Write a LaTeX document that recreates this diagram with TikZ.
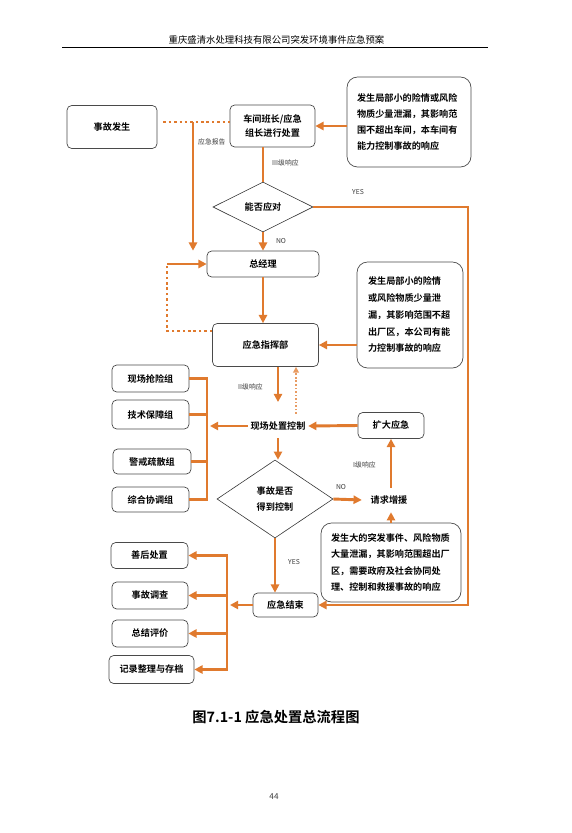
\documentclass[tikz,border=0pt]{standalone}
\usepackage{fontspec}
\setmainfont{Noto Sans CJK SC}[BoldFont={Noto Sans CJK SC Bold}]
\usetikzlibrary{arrows.meta, shapes.geometric, calc}
\definecolor{flowcolor}{HTML}{E07A2E}
\definecolor{linecolor}{HTML}{4A4A4A}
\definecolor{labelcolor}{HTML}{3A3A3A}

\begin{document}
\begin{tikzpicture}[
    x=0.03cm, y=-0.03cm,
    every node/.style={font=\fontsize{7.8}{9.5}\selectfont\bfseries, inner sep=0pt},
    sz/.style 2 args={minimum width=#1*0.03cm, minimum height=#2*0.03cm},
    box/.style={draw=linecolor, line width=0.6pt, rounded corners=4pt, fill=white, align=center},
    note/.style={box, rounded corners=9pt, align=left, inner xsep=0.3cm},
    diam/.style={diamond, draw=black!80, line width=0.5pt, aspect=2, align=center},
    lab/.style={font=\fontsize{5.8}{7}\selectfont, text=labelcolor},
    flow/.style={draw=flowcolor, line width=2.5pt, -{Triangle[length=7pt, width=7pt]}},
    stem/.style={draw=flowcolor, line width=2.5pt},
    dots/.style={draw=flowcolor, line width=2.2pt, dash pattern=on 2.2pt off 2.4pt},
    updots/.style={draw=flowcolor!75, line width=1.4pt, dash pattern=on 1.4pt off 1.6pt,
        -{Triangle[length=5pt, width=5pt]}},
]
\useasboundingbox (0,0) rectangle (572,833);

% ---------------------------------------------------------------- page header
\node[font=\fontsize{8}{9}\selectfont] (header) at (276.5,40)
    {重庆盛清水处理科技有限公司突发环境事件应急预案};
\draw[black, line width=0.8pt] (62,47) -- (488,47);

% ---------------------------------------------------------------- first level
\node[box, sz={90}{43}] (accident) at (112,127) {事故发生};
\node[box, sz={85}{42}, font=\fontsize{7.8}{12}\selectfont\bfseries] (shift) at (272.5,126)
    {车间班长/应急\\组长进行处置};
\node[note, sz={124}{90}, text width=3.12cm, font=\fontsize{7.8}{13.6}\selectfont\bfseries]
    (noteA) at (409,122)
    {发生局部小的险情或风险\\物质少量泄漏，其影响范\\围不超出车间，本车间有\\能力控制事故的响应};
\node[diam, sz={100}{50}] (cope) at (263,207) {能否应对};
\node[box, sz={112}{26}] (gm) at (263,264) {总经理};

\coordinate (report) at (193,122);
\draw[dots] ([shift={(6,-5)}]accident.east) -- (shift.west |- report);
\draw[flow] (report) -- (report |- gm.north);
\draw[flow] (noteA.west |- shift.east) -- (shift.east);
\draw[stem] (cope.north |- shift.south) -- (cope.north);

\node[lab, anchor=west] (lreport) at (198,142) {应急报告};
\node[lab, anchor=west] (lthree) at (272,163) {III级响应};
\node[lab] (lyes) at (358,192) {YES};
\node[lab] (lno) at (281,241) {NO};

% ---------------------------------------------------------------- second level
\node[box, sz={106}{43}] (command) at (265.5,345) {应急指挥部};
\node[note, sz={106}{106}, text width=2.52cm, inner xsep=0.33cm,
    font=\fontsize{7.8}{14.3}\selectfont\bfseries] (noteB) at (410,315)
    {发生局部小的险情\\或风险物质少量泄\\漏，其影响范围不超\\出厂区，本公司有能\\力控制事故的响应};

\draw[flow] (cope.south) -- (gm.north);
\draw[flow] (gm.south) -- (gm.south |- command.north);
\coordinate (loopB) at (167,331);
\coordinate (loopT) at (167,264);
\draw[dots] (command.west |- loopB) -- (loopB) -- (loopT);
\draw[flow] (loopT) -- (gm.west);
\draw[flow] (noteB.west |- command.east) -- (command.east);

% ---------------------------------------------------------------- on-site control
\node[sz={60}{24}] (sitectl) at (278,426) {现场处置控制};
\node[box, sz={77}{27}] (rescue) at (150.5,378.5) {现场抢险组};
\node[box, sz={77}{29}] (tech) at (150.5,414.5) {技术保障组};
\node[box, sz={78}{25}] (guard) at (152,461.5) {警戒疏散组};
\node[box, sz={77}{25}] (coord) at (150.5,499.5) {综合协调组};
\node[box, sz={66}{26}] (expand) at (391,425.5) {扩大应急};
\node[diam, sz={116}{78}, font=\fontsize{7.8}{13.6}\selectfont\bfseries] (controlled) at (275,499)
    {事故是否\\得到控制};
\node[sz={54}{24}] (reinf) at (389,500) {请求增援};
\node[note, sz={140}{79}, text width=3.6cm, font=\fontsize{7.8}{14}\selectfont\bfseries]
    (noteC) at (391,562.5)
    {发生大的突发事件、风险物质\\大量泄漏，其影响范围超出厂\\区，需要政府及社会协同处\\理、控制和救援事故的响应};

\draw[flow, shorten >=10pt] (command.south -| sitectl.north) -- (sitectl.north);
\coordinate (upS) at ([shift={(18,0)}]sitectl.north);
\coordinate (upE) at (upS |- command.south);
\draw[updots] (upS) -- (upE);

\coordinate (teams) at (207,426);
\draw[flow] (sitectl.west) -- ([shift={(3,0)}]teams);
\draw[stem] (rescue.east) -| (teams) |- (coord.east);
\foreach \n in {tech, guard}{
    \draw[stem] (\n.east) -- (\n.east -| teams);
}
\draw[flow] (expand.west) -- (sitectl.east);
\draw[flow] (sitectl.south) -- (sitectl.south |- controlled.north);
\draw[flow] (controlled.east) -- (reinf.west);
\draw[flow] (expand.south |- reinf.north) -- (expand.south);
\draw[flow] (noteC.north) -- (noteC.north |- reinf.south);

\node[lab, anchor=west] (ltwo) at (238,387) {II级响应};
\node[lab, anchor=west] (lone) at (353,465) {I级响应};
\node[lab] (lno2) at (341,487) {NO};
\node[lab] (lyes2) at (294,562) {YES};

% ---------------------------------------------------------------- closing
\node[box, sz={65}{24}] (close) at (285.5,605) {应急结束};
\node[box, sz={77}{26}] (after) at (149.5,555.5) {善后处置};
\node[box, sz={76}{27}] (invest) at (150,595.5) {事故调查};
\node[box, sz={76}{27}] (review) at (150,633.5) {总结评价};
\node[box, sz={85}{28}] (record) at (151.5,669.5) {记录整理与存档};

\coordinate (rline) at (468,400);
\draw[flow] (cope.east) -| (rline) |- (close.east);
\draw[flow] (controlled.south) -- (controlled.south |- close.north);

\coordinate (wrapup) at (227,605);
\draw[flow] (close.west) -- ([shift={(3,0)}]wrapup);
\draw[stem, line cap=rect] (wrapup |- after.east) -- (wrapup |- record.east);
\foreach \n in {after, invest, review, record}{
    \draw[flow] (wrapup |- \n.east) -- (\n.east);
}

% ---------------------------------------------------------------- caption
\node[font=\fontsize{12.2}{14}\selectfont\bfseries] (caption) at (276,717)
    {图7.1-1 应急处置总流程图};
\node[font=\fontsize{7}{8}\selectfont, text=labelcolor] (page) at (274,797) {44};

\end{tikzpicture}
\end{document}
